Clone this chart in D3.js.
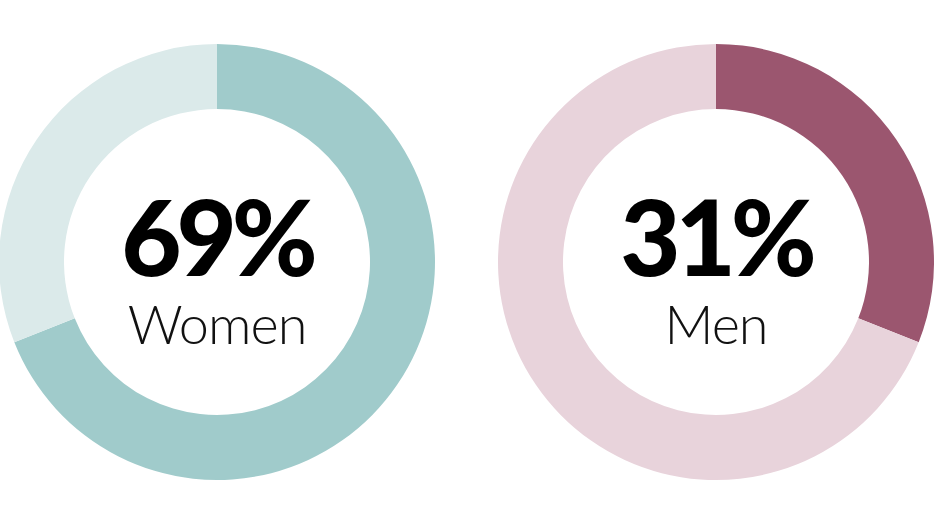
<!DOCTYPE html>
<html>
<head>
<meta charset="utf-8">
<script src="https://cdn.jsdelivr.net/npm/d3@7"></script>
<style>
  body { margin: 0; background: #fff; }
  svg { display: block; }
</style>
</head>
<body>
<div id="chart"></div>
<script>
// share of each group, in percent
var groups = ["Women", "Men"];
var shares = [69, 31];
var mainColors = ["#a0cbcb", "#9b566f"];
var restColors = ["#dbeaea", "#e8d3db"];

var width = 934, height = 525;
var outerR = 218, innerR = 153;
var cy = 262;

var svg = d3.select("#chart")
    .append("svg")
    .attr("width", width)
    .attr("height", height);

var x = d3.scalePoint()
    .domain(groups)
    .range([217, 716]);

var pie = d3.pie().sort(null).value(function (d) { return d; });
var arc = d3.arc().innerRadius(innerR).outerRadius(outerR);

groups.forEach(function (g, i) {
    var donut = svg.append("g")
        .attr("transform", "translate(" + x(g) + "," + cy + ")");

    donut.selectAll("path")
        .data(pie([shares[i], 100 - shares[i]]))
        .enter()
        .append("path")
        .attr("d", arc)
        .attr("fill", function (d, j) { return j == 0 ? mainColors[i] : restColors[i]; });

    donut.append("text")
        .attr("text-anchor", "middle")
        .attr("x", 0)
        .attr("y", 14)
        .style("font-family", "Lato, 'DejaVu Sans', sans-serif")
        .style("font-weight", 900)
        .style("font-size", "104px")
        .style("letter-spacing", "-5px")
        .style("fill", "#000")
        .text(shares[i] + "%");

    donut.append("text")
        .attr("text-anchor", "middle")
        .attr("y", 82)
        .style("font-family", "Lato, 'DejaVu Sans', sans-serif")
        .style("font-weight", 300)
        .style("font-size", "54px")
        .style("letter-spacing", "-1px")
        .style("fill", "#111")
        .text(g);
});
</script>
</body>
</html>
